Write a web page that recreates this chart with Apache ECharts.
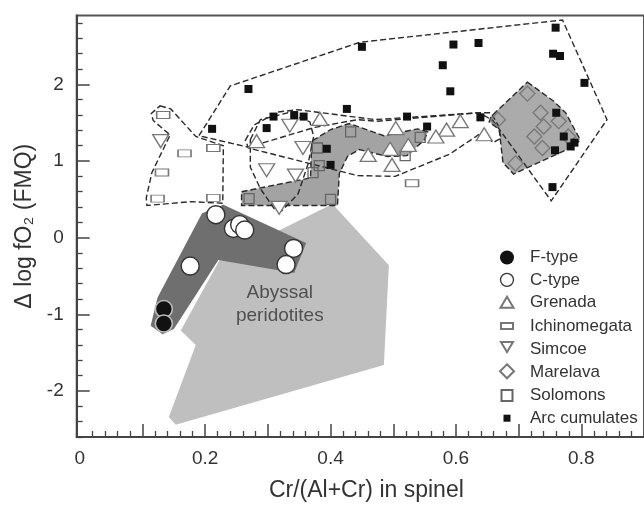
<!DOCTYPE html>
<html>
<head>
<meta charset="utf-8">
<script src="https://cdn.jsdelivr.net/npm/echarts@6/dist/echarts.min.js"></script>
<style>html,body{margin:0;padding:0;background:#fff}#c{width:644px;height:507px}</style>
</head>
<body>
<div id="c"></div>
<script>
// ---- tick labels ----
const X_LABELS = [0, 0.2, 0.4, 0.6, 0.8];
const X_MAJOR_TICKS = [0.1, 0.2, 0.3, 0.4, 0.5, 0.6, 0.7, 0.8];
const Y_LABELS = [-2, -1, 0, 1, 2];
const Y_MAJOR_TICKS = [-2, -1, 0, 1, 2];

// ---- point series ----
const F_TYPE = [[0.134, -0.93], [0.134, -1.12]];
const C_TYPE = [[0.217, 0.30], [0.245, 0.12], [0.255, 0.17], [0.263, 0.10], [0.341, -0.14], [0.329, -0.35], [0.176, -0.37]];
const GRENADA = [[0.282, 1.26], [0.383, 1.55], [0.504, 1.43], [0.607, 1.52], [0.585, 1.41], [0.568, 1.32], [0.645, 1.35], [0.460, 1.08], [0.495, 1.16], [0.524, 1.21], [0.498, 0.95]];
const ICHINOMEGATA = [[0.133, 1.60], [0.167, 1.10], [0.213, 1.17], [0.131, 0.85], [0.124, 0.51], [0.213, 0.52], [0.530, 0.71]];
const SIMCOE = [[0.129, 1.26], [0.335, 1.46], [0.356, 1.17], [0.298, 0.88], [0.344, 0.81], [0.318, 0.39]];
const MARELAVA = [[0.714, 1.88], [0.735, 1.63], [0.764, 1.52], [0.740, 1.45], [0.725, 1.32], [0.738, 1.17], [0.695, 0.97], [0.667, 1.54], [0.779, 1.32]];
const SOLOMONS = [[0.270, 0.51], [0.400, 0.50], [0.432, 1.38], [0.543, 1.31], [0.519, 1.07], [0.379, 1.17], [0.382, 0.94], [0.372, 0.85]];
const ARC_CUMULATES = [[0.759, 2.74], [0.450, 2.49], [0.596, 2.52], [0.636, 2.54], [0.755, 2.40], [0.766, 2.37], [0.579, 2.25], [0.805, 2.02], [0.591, 1.91], [0.426, 1.68], [0.522, 1.58], [0.639, 1.57], [0.554, 1.45], [0.760, 1.63], [0.772, 1.32], [0.789, 1.24], [0.783, 1.19], [0.758, 1.14], [0.754, 0.66], [0.394, 1.16], [0.400, 0.95], [0.269, 1.94], [0.211, 1.42], [0.309, 1.58], [0.298, 1.43], [0.342, 1.60], [0.357, 1.58]];

// ---- fields (polygon outlines) ----
const ABYSSAL_FIELD = [[0.403, 0.44], [0.493, -0.36], [0.485, -1.66], [0.153, -2.44], [0.142, -2.34], [0.185, -1.40], [0.161, -1.21], [0.223, -0.29]];
const CF_FIELD = [[0.113, -1.15], [0.124, -0.78], [0.195, 0.32], [0.229, 0.43], [0.361, -0.07], [0.342, -0.46], [0.221, -0.29], [0.150, -1.19], [0.132, -1.26]];
const SOLOMONS_FIELD = [[0.258, 0.60], [0.368, 0.78], [0.370, 1.26], [0.400, 1.41], [0.430, 1.49], [0.485, 1.33], [0.539, 1.42], [0.555, 1.38], [0.550, 1.28], [0.522, 1.07], [0.490, 1.06], [0.446, 1.15], [0.427, 1.06], [0.414, 0.84], [0.411, 0.42], [0.258, 0.42]];
const MARELAVA_FIELD = [[0.714, 2.03], [0.756, 1.78], [0.775, 1.63], [0.798, 1.28], [0.790, 1.20], [0.692, 0.83], [0.675, 0.98], [0.669, 1.41], [0.653, 1.51], [0.656, 1.58]];
const ICHINOMEGATA_FIELD = [[0.128, 1.72], [0.145, 1.68], [0.185, 1.32], [0.229, 1.20], [0.228, 0.45], [0.177, 0.47], [0.107, 0.42], [0.106, 0.52], [0.115, 0.85], [0.144, 1.34], [0.117, 1.53], [0.114, 1.62]];
const SIMCOE_FIELD = [[0.272, 1.28], [0.288, 1.54], [0.332, 1.63], [0.367, 1.51], [0.373, 1.32], [0.364, 0.96], [0.348, 0.57], [0.322, 0.35], [0.310, 0.38], [0.288, 0.64], [0.272, 0.92]];
const GRENADA_FIELD = [[0.264, 1.27], [0.278, 1.47], [0.316, 1.64], [0.348, 1.67], [0.471, 1.54], [0.637, 1.63], [0.656, 1.63], [0.667, 1.47], [0.672, 1.30], [0.659, 1.24], [0.643, 1.38], [0.621, 1.26], [0.590, 1.09], [0.503, 0.80], [0.443, 0.81], [0.269, 1.17]];
const ARC_FIELD = [[0.190, 1.33], [0.240, 1.98], [0.447, 2.55], [0.770, 2.84], [0.841, 1.54], [0.752, 0.48], [0.659, 1.53], [0.637, 1.63], [0.474, 1.52], [0.443, 1.54], [0.375, 1.44], [0.269, 1.18]];

const ABYSSAL_LABEL = [[0.319, -0.874]];

// minor tick positions
const X_MINOR_TICKS = [];
for (let i = 1; i < 45; i++) { if (i % 5 !== 0) X_MINOR_TICKS.push(+(i * 0.02).toFixed(2)); }
const Y_MINOR_TICKS = [];
for (let i = -13; i <= 14; i++) { if (i % 5 !== 0) Y_MINOR_TICKS.push(+(i * 0.2).toFixed(1)); }

const FONT = 'Liberation Sans, Arial, Helvetica, sans-serif';
const AX = '#444';

function field(name, pts, style, z) {
  return {
    type: 'custom', name: name, coordinateSystem: 'cartesian2d', data: pts,
    encode: { x: 0, y: 1 }, z: z, silent: true,
    renderItem: function (params, api) {
      if (params.dataIndex !== 0) return null;
      return { type: 'polygon', shape: { points: pts.map(function (p) { return api.coord(p); }) }, style: style };
    }
  };
}
const dashed = { stroke: '#2a2a2a', lineWidth: 1.4, lineDash: [6, 3] };

const PAD = 'path://M0,0M36,16';
const legendData = [
  { name: 'F-type', icon: PAD + 'M11,8A7,7,0,1,0,25,8A7,7,0,1,0,11,8Z', itemStyle: { color: '#111', borderWidth: 0 } },
  { name: 'C-type', icon: PAD + 'M11.5,8A6.5,6.5,0,1,0,24.5,8A6.5,6.5,0,1,0,11.5,8Z', itemStyle: { color: '#fff', borderColor: '#333', borderWidth: 1.3 } },
  { name: 'Grenada', icon: PAD + 'M11.5,13L24.5,13L18,2Z' },
  { name: 'Ichinomegata', icon: PAD + 'M12,5h12v6h-12Z' },
  { name: 'Simcoe', icon: PAD + 'M12,1L24,1L18,11Z' },
  { name: 'Marelava', icon: PAD + 'M18,0L25,7L18,14L11,7Z' },
  { name: 'Solomons', icon: PAD + 'M12.5,2.5h11v11h-11Z' },
  { name: 'Arc cumulates', icon: PAD + 'M14.5,4.5h7v7h-7Z' }
];

const chart = echarts.init(document.getElementById('c'), null, { renderer: 'canvas' });
chart.setOption({
  animation: false,
  backgroundColor: '#fff',
  textStyle: { fontFamily: FONT },
  grid: { left: 76.7, top: 15.4, width: 572.3, height: 426.3, show: true, borderColor: '#555', borderWidth: 2, backgroundColor: 'transparent' },
  xAxis: [
    {
      type: 'value', min: -0.005, max: 0.9, position: 'bottom',
      axisLine: { show: true, onZero: false, lineStyle: { color: AX, width: 2 } },
      axisTick: { show: true, inside: true, length: 13, customValues: X_MAJOR_TICKS, lineStyle: { color: AX, width: 1.5 } },
      axisLabel: { customValues: X_LABELS, fontSize: 19, color: '#333', margin: 12, fontFamily: FONT },
      splitLine: { show: false },
      name: 'Cr/(Al+Cr) in spinel', nameLocation: 'middle', nameGap: 42,
      nameTextStyle: { fontSize: 23, color: '#333', fontFamily: FONT, padding: [0, 0, 0, 12] }
    },
    {
      type: 'value', min: -0.005, max: 0.9, position: 'bottom',
      axisLine: { show: false, onZero: false },
      axisTick: { show: true, inside: true, length: 6, customValues: X_MINOR_TICKS, lineStyle: { color: AX, width: 1.3 } },
      axisLabel: { show: false }, splitLine: { show: false }
    }
  ],
  yAxis: [
    {
      type: 'value', min: -2.6, max: 2.9, position: 'left',
      axisLine: { show: true, onZero: false, lineStyle: { color: AX, width: 2 } },
      axisTick: { show: true, inside: true, length: 13, customValues: Y_MAJOR_TICKS, lineStyle: { color: AX, width: 1.5 } },
      axisLabel: { customValues: Y_LABELS, fontSize: 19, color: '#333', margin: 13, fontFamily: FONT },
      splitLine: { show: false },
      name: 'Δ log fO₂ (FMQ)', nameLocation: 'middle', nameGap: 37, nameRotate: 90,
      nameTextStyle: { fontSize: 23, color: '#333', fontFamily: FONT }
    },
    {
      type: 'value', min: -2.6, max: 2.9, position: 'left',
      axisLine: { show: false, onZero: false },
      axisTick: { show: true, inside: true, length: 6, customValues: Y_MINOR_TICKS, lineStyle: { color: AX, width: 1.3 } },
      axisLabel: { show: false }, splitLine: { show: false }
    }
  ],
  legend: {
    orient: 'vertical', left: 483, top: 244, padding: 5, itemWidth: 36, itemHeight: 16, itemGap: 5.2,
    textStyle: { fontSize: 17, color: '#333', fontFamily: FONT, lineHeight: 17 },
    data: legendData
  },
  series: [
    field('abyssal', ABYSSAL_FIELD, { fill: '#bfbfbf' }, 1),
    field('cf', CF_FIELD, { fill: '#6f6f6f' }, 2),
    field('solomonsField', SOLOMONS_FIELD, Object.assign({ fill: '#a3a3a3' }, dashed), 3),
    field('marelavaField', MARELAVA_FIELD, Object.assign({ fill: '#ababab' }, dashed), 3),
    field('ichinoField', ICHINOMEGATA_FIELD, Object.assign({ fill: 'none' }, dashed), 4),
    field('simcoeField', SIMCOE_FIELD, Object.assign({ fill: 'none' }, dashed), 4),
    field('grenadaField', GRENADA_FIELD, Object.assign({ fill: 'none' }, dashed), 4),
    field('arcField', ARC_FIELD, Object.assign({ fill: 'none' }, dashed), 4),
    {
      type: 'scatter', name: 'abyssalLabel', data: ABYSSAL_LABEL, symbolSize: 0, silent: true, z: 5,
      label: { show: true, position: 'inside', formatter: 'Abyssal\nperidotites', fontSize: 19, lineHeight: 23, color: '#333', fontFamily: FONT }
    },
    { type: 'scatter', name: 'Ichinomegata', data: ICHINOMEGATA, symbol: 'rect', symbolSize: [13, 7], z: 10, itemStyle: { color: '#fff', borderColor: '#777', borderWidth: 1.2, opacity: 1 } },
    { type: 'scatter', name: 'Solomons', data: SOLOMONS, symbol: 'rect', symbolSize: 10, z: 10, itemStyle: { color: 'rgba(0,0,0,0)', borderColor: '#666', borderWidth: 1.3, opacity: 1 } },
    { type: 'scatter', name: 'Marelava', data: MARELAVA, symbol: 'diamond', symbolSize: 15, z: 10, itemStyle: { color: 'rgba(0,0,0,0)', borderColor: '#777', borderWidth: 1.3, opacity: 1 } },
    { type: 'scatter', name: 'Simcoe', data: SIMCOE, symbol: 'triangle', symbolRotate: 180, symbolSize: [16, 13], z: 10, itemStyle: { color: '#fff', borderColor: '#777', borderWidth: 1.3, opacity: 1 } },
    { type: 'scatter', name: 'Grenada', data: GRENADA, symbol: 'triangle', symbolSize: [16, 13], z: 10, itemStyle: { color: '#fff', borderColor: '#777', borderWidth: 1.3, opacity: 1 } },
    { type: 'scatter', name: 'Arc cumulates', data: ARC_CUMULATES, symbol: 'rect', symbolSize: 8, z: 11, itemStyle: { color: '#111', borderWidth: 0, opacity: 1 } },
    { type: 'scatter', name: 'C-type', data: C_TYPE, symbol: 'circle', symbolSize: 18, z: 12, itemStyle: { color: '#fff', borderColor: '#333', borderWidth: 1.4, opacity: 1 } },
    { type: 'scatter', name: 'F-type', data: F_TYPE, symbol: 'circle', symbolSize: 17, z: 12, itemStyle: { color: '#111', borderColor: '#bbb', borderWidth: 1.6, opacity: 1 } }
  ]
});
</script>
</body>
</html>
